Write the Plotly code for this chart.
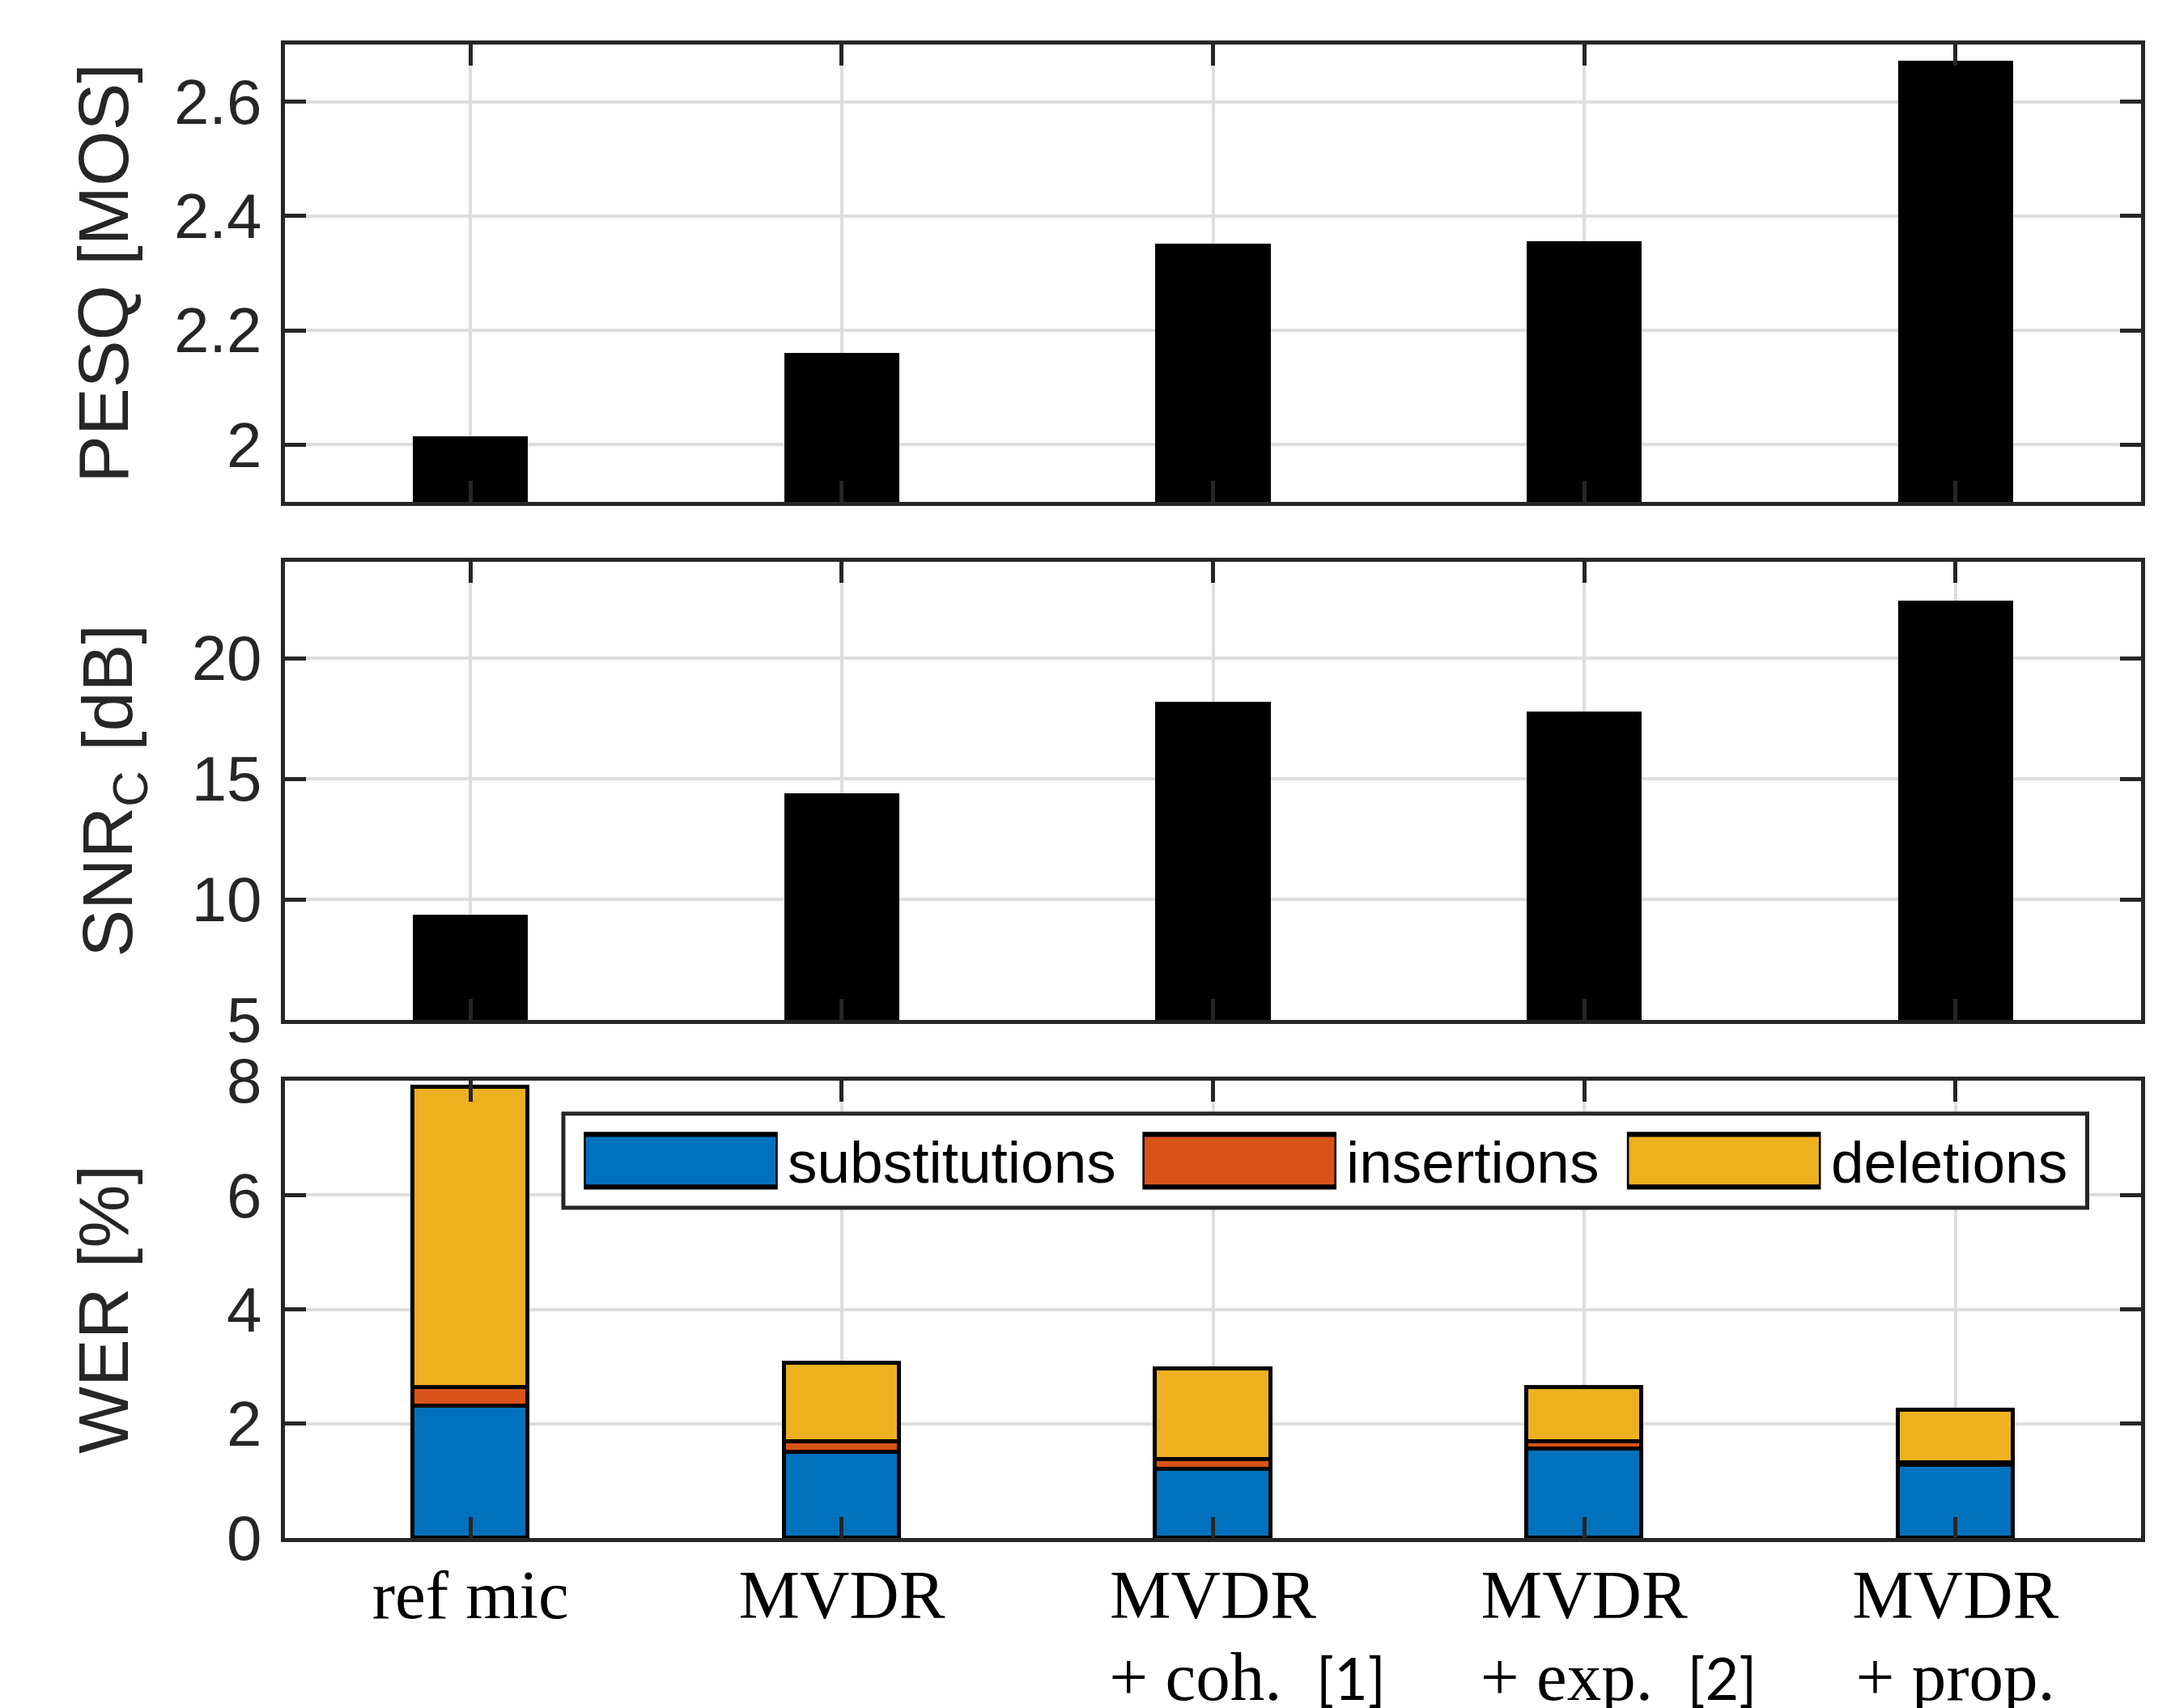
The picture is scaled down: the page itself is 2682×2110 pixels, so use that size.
import plotly.graph_objects as go
from plotly.subplots import make_subplots

# ---------------- data ----------------
categories = ["ref mic", "MVDR", "MVDR + coh. [1]", "MVDR + exp. [2]", "MVDR + prop."]
tick_line1 = ["ref mic", "MVDR", "MVDR", "MVDR", "MVDR"]
tick_line2 = ["", "", "+ coh.", "+ exp.", "+ prop."]
tick_refs = ["", "", "[1]", "[2]", ""]

pesq = [2.014, 2.16, 2.352, 2.356, 2.672]
snr_c = [9.37, 14.4, 18.2, 17.8, 22.4]

wer_substitutions = [2.31, 1.50, 1.20, 1.55, 1.27]
wer_insertions = [0.33, 0.19, 0.17, 0.13, 0.04]
wer_deletions = [5.24, 1.37, 1.59, 0.95, 0.93]

wer_series = ["substitutions", "insertions", "deletions"]
wer_values = [wer_substitutions, wer_insertions, wer_deletions]
wer_colors = ["#0072BD", "#D95319", "#EDB120"]

pesq_ticks = [2, 2.2, 2.4, 2.6]
snr_ticks = [5, 10, 15, 20]
wer_ticks = [0, 2, 4, 6, 8]

# ---------------- styles ----------------
AX = "#262626"
GRID = "#dedede"
NB = "\u00a0"
SANS = "Liberation Sans, Arial, sans-serif"
SERIF = "Liberation Serif, Times New Roman, serif"
BIG = '<span style="font-size:85px">'
REF = '<span style="font-family:Lato, Open Sans, sans-serif;font-size:72px">'

ticktext = []
for l1, l2, ref in zip(tick_line1, tick_line2, tick_refs):
    if not l2:
        ticktext.append(BIG + l1 + "</span>")
    elif ref:
        ticktext.append(BIG + l1 + "</span><br>" + BIG + NB * 4 + l2 + NB * 2 + "</span>"
                        + REF + ref + "</span>")
    else:
        ticktext.append(BIG + l1 + "</span><br>" + BIG + l2 + "</span>")

fig = make_subplots(rows=3, cols=1)

fig.add_trace(go.Bar(x=categories, y=pesq, width=0.31, marker=dict(color="black", line=dict(width=0)),
                     showlegend=False), row=1, col=1)
fig.add_trace(go.Bar(x=categories, y=snr_c, width=0.31, marker=dict(color="black", line=dict(width=0)),
                     showlegend=False), row=2, col=1)
for name, vals, col in zip(wer_series, wer_values, wer_colors):
    fig.add_trace(go.Bar(x=categories, y=vals, name=name, width=0.31,
                         marker=dict(color=col, line=dict(color="black", width=5.5)),
                         showlegend=False), row=3, col=1)

common_x = dict(
    type="category", categoryorder="array", categoryarray=categories,
    range=[-0.5, 4.5], showline=True, linecolor=AX, linewidth=5, mirror="allticks",
    ticks="inside", ticklen=26, tickwidth=5, tickcolor=AX,
    showgrid=True, gridcolor=GRID, gridwidth=3.5, zeroline=False,
    tickvals=categories, automargin=False,
)
common_y = dict(
    showline=True, linecolor=AX, linewidth=5, mirror="allticks",
    ticks="inside", ticklen=26, tickwidth=5, tickcolor=AX,
    showgrid=True, gridcolor=GRID, gridwidth=3.5, zeroline=False,
    tickfont=dict(family=SANS, size=78, color=AX),
    ticklabelstandoff=8, automargin=False,
    title_font=dict(family=SANS, size=88, color=AX),
)

fig.update_xaxes(**common_x, showticklabels=False, row=1, col=1)
fig.update_xaxes(**common_x, showticklabels=False, row=2, col=1)
fig.update_xaxes(**common_x, showticklabels=True, ticktext=ticktext, ticklabelstandoff=0,
                 tickfont=dict(family=SERIF, size=78, color="black"), row=3, col=1)

fig.update_yaxes(**common_y, range=[1.9, 2.7], tickvals=pesq_ticks,
                 title=dict(text="PESQ [MOS]", standoff=29), row=1, col=1)
fig.update_yaxes(**common_y, range=[5, 24], tickvals=snr_ticks,
                 title=dict(text="SNR<sub>C</sub> [dB]", standoff=45), row=2, col=1)
fig.update_yaxes(**common_y, range=[0, 8], tickvals=wer_ticks,
                 title=dict(text="WER [%]", standoff=94), row=3, col=1)

fig.update_layout(
    yaxis=dict(domain=[0.6938, 1.0]),
    yaxis2=dict(domain=[0.3469, 0.6537]),
    yaxis3=dict(domain=[0.0, 0.3062]),
    xaxis=dict(domain=[0, 1]), xaxis2=dict(domain=[0, 1]), xaxis3=dict(domain=[0, 1]),
    barmode="stack",
    bargap=0,
    width=2682, height=2110,
    margin=dict(l=344, r=44.5, t=47, b=218, autoexpand=False),
    paper_bgcolor="white", plot_bgcolor="white",
    showlegend=False,
)

# ---------------- legend (drawn inside WER panel) ----------------
fig.add_shape(type="rect", xref="x3 domain", yref="y3 domain",
              x0=0.1500, x1=0.9710, y0=0.7220, y1=0.9280,
              fillcolor="white", line=dict(color=AX, width=5), layer="above")
sw_x0 = [0.1610, 0.4620, 0.7230]
sw_w = 0.1045
sw_y0, sw_y1 = 0.7620, 0.8880
for name, col, x0 in zip(wer_series, wer_colors, sw_x0):
    fig.add_shape(type="rect", xref="x3 domain", yref="y3 domain",
                  x0=x0, x1=x0 + sw_w, y0=sw_y0, y1=sw_y1,
                  fillcolor="black", line=dict(width=0), layer="above")
    fig.add_shape(type="rect", xref="x3 domain", yref="y3 domain",
                  x0=x0 + 0.0011, x1=x0 + sw_w - 0.0011, y0=sw_y0 + 0.011, y1=sw_y1 - 0.011,
                  fillcolor=col, line=dict(width=0), layer="above")
    fig.add_annotation(xref="x3 domain", yref="y3 domain", x=x0 + sw_w + 0.0045, y=0.8220,
                       text=name, showarrow=False, xanchor="left", yanchor="middle",
                       font=dict(family=SANS, size=73, color="black"))

fig.write_html("out.html")
